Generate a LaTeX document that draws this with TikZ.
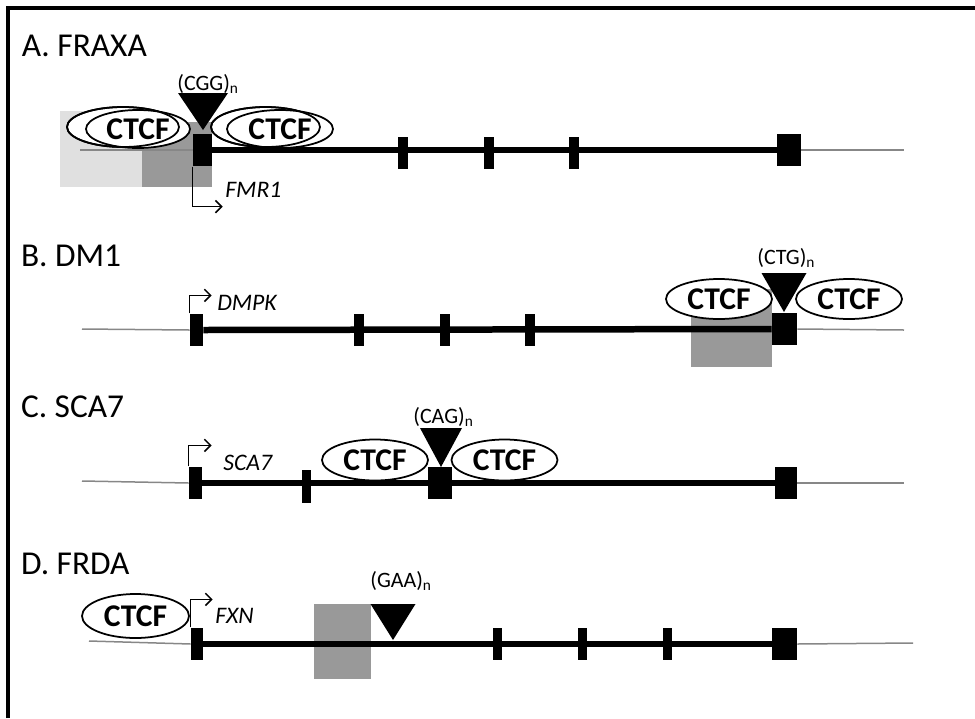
\documentclass[tikz,border=0pt]{standalone}
\usepackage{fontspec}
\setmainfont{Carlito}
\usetikzlibrary{shapes.geometric,arrows.meta}

\definecolor{boxgray}{RGB}{153,153,153}
\definecolor{lightbox}{RGB}{224,224,224}
\definecolor{flankgray}{RGB}{135,135,135}

\begin{document}
\begin{tikzpicture}[x=0.02cm, y=-0.02cm,
    >={Straight Barb[length=3.5pt,width=7pt]},
    paneltitle/.style={anchor=base west, inner sep=0pt, outer sep=0pt, font=\fontsize{19}{22}\selectfont},
    genename/.style={anchor=base west, inner sep=0pt, font=\itshape\fontsize{13.5}{15}\selectfont},
    replabel/.style={anchor=base west, inner sep=0pt, font=\fontsize{12.5}{14}\selectfont},
    ctcf/.style={ellipse, draw, fill=white, line width=0.035cm, inner sep=0pt,
        minimum width=2.12cm, minimum height=0.8cm, font=\bfseries\fontsize{18}{20}\selectfont},
    exon/.style={fill=black, inner sep=0pt, minimum height=0.65cm, minimum width=#1},
    exon/.default=0.2cm,
    gene/.style={line width=0.13cm},
    flank/.style={line width=0.03cm, flankgray},
    promoter/.style={->, line width=0.03cm}]

    \useasboundingbox (0,0) rectangle (975,718);

    % Frame
    \draw[line width=0.07cm] (8,718) -- (8,8) -- (975,8);

    % A. FRAXA
    \node[paneltitle] (tA) at (22,56) {A. FRAXA};
    \fill[lightbox] (60,111) rectangle (142,187);
    \fill[boxgray] (142,122) rectangle (212,187);
    \node[exon=0.38cm] (a1) at (202.5,150) {};
    \node[exon] (a2) at (403,153) {};
    \node[exon] (a3) at (488.5,153) {};
    \node[exon] (a4) at (573.5,153) {};
    \node[exon=0.48cm] (a5) at (789,150) {};
    \coordinate (aL) at (80,150);
    \coordinate (aR) at (904,150);
    \draw[flank] (aL) -- (a1.west);
    \draw[flank] (a5.east) -- (aR);
    \draw[gene] (a1.east) -- (a5.west);
    \node[ctcf, minimum width=2.24cm, minimum height=0.8cm] (cA1b) at (123,127) {};
    \node[ctcf, minimum width=2.08cm, minimum height=0.76cm] (cA1) at (138,129) {CTCF};
    \node[ctcf, fill=none, minimum width=2.24cm, minimum height=0.8cm] (cA1o) at (cA1b.center) {};
    \node[ctcf, minimum width=2.18cm, minimum height=0.8cm] (cA2b) at (265.5,127) {};
    \node[ctcf, minimum width=2.12cm, minimum height=0.76cm] (cA2) at (280,129) {CTCF};
    \node[ctcf, fill=none, minimum width=2.18cm, minimum height=0.8cm] (cA2o) at (cA2b.center) {};
    \coordinate (rA) at (203,130);
    \fill (rA) -- ++(-25,-37) -- ++(50,0) -- cycle;
    \node[replabel] (lA) at (177,90) {(CGG)\textsubscript{n}};
    \draw[promoter] (a1.south west) -- ++(0,40) -- ++(30,0);
    \node[genename] (gA) at (225,197) {FMR1};

    % B. DM1
    \node[paneltitle] (tB) at (21,266) {B. DM1};
    \fill[boxgray] (691,289) rectangle (772,367);
    \node[exon=0.26cm] (b1) at (196.5,330) {};
    \node[exon] (b2) at (359,330) {};
    \node[exon] (b3) at (444.5,330) {};
    \node[exon] (b4) at (529.5,330) {};
    \node[exon=0.5cm] (b5) at (784.5,329) {};
    \coordinate (bL) at (82,329);
    \coordinate (bR) at (904,330);
    \draw[flank] (bL) -- (b1.west);
    \draw[flank] (b5.east) -- (bR);
    \draw[gene] (b1.east) -- (b5.west);
    \node[ctcf] (cB1) at (719,299) {CTCF};
    \node[ctcf] (cB2) at (849,299) {CTCF};
    \coordinate (rB) at (784,312);
    \fill (rB) -- ++(-22.5,-39) -- ++(45,0) -- cycle;
    \node[replabel] (lB) at (757,264) {(CTG)\textsubscript{n}};
    \draw[promoter] (b1.north west) -- ++(0,-18) -- ++(22,0);
    \node[genename] (gB) at (217,310) {DMPK};

    % C. SCA7
    \node[paneltitle] (tC) at (21,417) {C. SCA7};
    \node[exon=0.26cm] (c1) at (195.5,483) {};
    \node[exon=0.18cm, minimum height=0.66cm] (c2) at (306.5,486) {};
    \node[exon=0.48cm] (c3) at (440,483) {};
    \node[exon=0.44cm] (c4) at (786,483) {};
    \coordinate (cL) at (82,481);
    \coordinate (cR) at (904,483);
    \draw[flank] (cL) -- (c1.west);
    \draw[flank] (c4.east) -- (cR);
    \draw[gene] (c1.east) -- (c4.west);
    \node[ctcf, minimum height=0.82cm] (cC1) at (375,460) {CTCF};
    \node[ctcf, minimum height=0.82cm] (cC2) at (504.5,460) {CTCF};
    \coordinate (rC) at (441,467);
    \fill (rC) -- ++(-21,-39) -- ++(42,0) -- cycle;
    \node[replabel] (lC) at (413,423) {(CAG)\textsubscript{n}};
    \draw[promoter] (c1.north west) -- ++(0,-21) -- ++(23,0);
    \node[genename] (gC) at (223,470) {SCA7};

    % D. FRDA
    \node[paneltitle] (tD) at (21,574) {D. FRDA};
    \fill[boxgray] (314,604) rectangle (371,679);
    \node[exon=0.24cm] (d1) at (197,644) {};
    \node[exon=0.18cm] (d2) at (497,644) {};
    \node[exon=0.18cm] (d3) at (582,644) {};
    \node[exon=0.18cm] (d4) at (667.5,644) {};
    \node[exon=0.5cm] (d5) at (784.5,644) {};
    \coordinate (dL) at (89,641);
    \coordinate (dR) at (913,643);
    \draw[flank] (dL) -- (d1.west);
    \draw[flank] (d5.east) -- (dR);
    \draw[gene] (d1.east) -- (d5.west);
    \node[ctcf, minimum width=2.14cm, minimum height=0.88cm] (cD1) at (135.5,616) {CTCF};
    \coordinate (rD) at (393,640);
    \fill (rD) -- ++(-22.5,-36) -- ++(45,0) -- cycle;
    \node[replabel] (lD) at (370,587) {(GAA)\textsubscript{n}};
    \draw[promoter] (d1.north west) -- ++(0,-28) -- ++(22,0);
    \node[genename] (gD) at (215,623) {FXN};
\end{tikzpicture}
\end{document}
